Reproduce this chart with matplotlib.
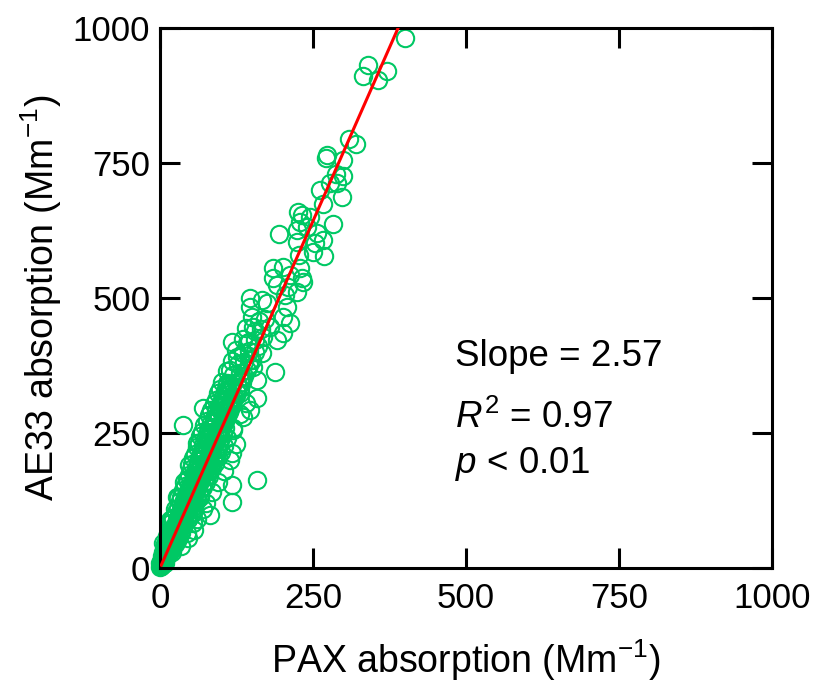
import matplotlib
matplotlib.use("Agg")
import matplotlib.pyplot as plt

plt.rcParams['font.family'] = ['Liberation Sans', 'DejaVu Sans']
plt.rcParams['mathtext.fontset'] = 'custom'
plt.rcParams['mathtext.rm'] = 'Liberation Sans'
plt.rcParams['mathtext.it'] = 'Liberation Sans:italic'

# PAX vs AE33 absorption (Mm-1)
# dense core near the origin
core_pax = [0, 1, 2, 3, 4, 4, 6, 8, 10, 8, 12, 15, 18, 14, 18, 22, 26, 30,
            18, 24, 28, 32, 36, 26, 32, 38, 44, 52, 32, 38, 44, 50, 58,
            38, 44, 50, 56, 64, 44, 52, 58, 64, 72, 50, 58, 64, 72, 80,
            54, 62, 70, 78, 88, 60, 68, 76, 84, 94, 66, 74, 82, 90, 100,
            72, 80, 88, 96, 106, 80, 88, 96, 104, 88, 96, 104, 112,
            95, 103, 112, 120, 102, 110, 120, 128, 110, 120, 130, 118, 128, 138,
            125, 135, 145, 135, 145, 155, 140, 155, 165, 150, 162, 172]
core_ae33 = [2, 8, 4, 10, 6, 22, 18, 24, 20, 42, 38, 44, 36, 62, 58, 64, 56, 60,
             84, 78, 82, 76, 80, 104, 98, 102, 96, 100, 124, 118, 122, 116, 120,
             144, 138, 142, 136, 140, 164, 158, 162, 156, 160, 184, 178, 182, 176, 180,
             204, 198, 202, 196, 200, 224, 218, 222, 216, 220, 244, 238, 242, 236, 240,
             264, 258, 262, 256, 260, 284, 278, 282, 276, 304, 298, 302, 296,
             324, 318, 322, 316, 344, 338, 342, 336, 364, 358, 362, 384, 378, 382,
             404, 398, 402, 424, 418, 422, 444, 438, 442, 464, 458, 462]

# more of the core, between the rows above
core2_pax = [2, 4, 6, 8, 6, 9, 12, 15, 20, 11, 15, 19, 23, 27, 16, 21, 25, 29, 34,
             22, 28, 34, 40, 46, 29, 35, 41, 47, 55, 35, 41, 47, 53, 61,
             41, 47, 53, 60, 68, 47, 55, 61, 68, 76, 52, 60, 67, 75, 84,
             57, 65, 73, 81, 91, 63, 71, 79, 87, 97, 69, 77, 85, 93, 103,
             76, 84, 92, 100, 84, 92, 100, 108, 91, 99, 108, 116, 98, 106, 116, 124]
core2_ae33 = [12, 9, 13, 10, 31, 28, 32, 29, 30, 52, 48, 51, 49, 50, 71, 69, 72, 68, 70,
              92, 88, 91, 89, 90, 112, 108, 111, 109, 110, 132, 128, 131, 129, 130,
              152, 148, 151, 149, 150, 172, 168, 171, 169, 170, 192, 188, 191, 189, 190,
              212, 208, 211, 209, 210, 232, 228, 231, 229, 230, 252, 248, 251, 249, 250,
              272, 268, 271, 269, 292, 288, 291, 289, 312, 308, 311, 309, 332, 328, 331, 329]

# edges of the core (wide spread at low values)
edge_pax = [35, 45, 55, 60, 70, 75, 85, 95, 105, 115, 125,
            5, 8, 12, 20, 25, 30, 40, 48]
edge_ae33 = [40, 55, 70, 90, 110, 120, 140, 160, 180, 200, 230,
             30, 45, 60, 90, 110, 130, 160, 190]

# points along the fitted line and the spread around it
band_pax = [1, 2, 3, 4, 5, 6, 7, 8, 9, 10, 3, 5, 7, 9, 11, 12, 13, 14, 15, 16,
            17, 18, 19, 20, 21, 22, 23, 24, 25, 26, 27, 28, 29, 30, 31, 32, 33, 34, 35, 36,
            37, 38, 39, 40, 41, 42, 43, 44, 45, 46, 47, 48, 49, 50, 52, 54, 56, 58, 60, 62,
            64, 66, 68, 70, 72, 74, 76, 78, 80, 82, 84, 86, 88, 90, 92, 94, 96, 98, 100, 102,
            104, 106, 108, 110, 112, 115, 118, 120, 123, 126, 130, 134, 138, 142, 146, 150, 155, 160,
            10, 15, 20, 25, 30, 35, 40, 45, 50, 55, 60, 65, 70, 75, 80, 85, 90, 95, 100, 105, 110, 115,
            15, 20, 25, 30, 35, 40, 45, 50, 55, 60, 65, 70, 75, 80, 85, 90, 95, 100, 105, 110, 120, 130, 140]
band_ae33 = [3, 5, 6, 10, 12, 15, 17, 20, 22, 26, 9, 8, 12, 18, 30, 28, 35, 33, 40, 38,
             45, 42, 50, 48, 55, 52, 60, 58, 66, 62, 72, 68, 78, 74, 82, 79, 88, 84, 92, 90,
             98, 94, 104, 100, 108, 104, 114, 110, 118, 115, 124, 120, 130, 126, 135, 140, 146, 150, 158, 162,
             168, 172, 178, 182, 188, 192, 198, 202, 208, 212, 218, 222, 228, 232, 238, 242, 248, 252, 258, 262,
             268, 272, 278, 282, 288, 295, 302, 310, 316, 324, 334, 345, 356, 366, 376, 386, 400, 412,
             40, 55, 70, 80, 95, 110, 125, 140, 155, 170, 185, 200, 215, 230, 245, 260, 275, 285, 300, 310, 325, 340,
             25, 35, 45, 55, 65, 80, 90, 100, 115, 125, 135, 150, 160, 170, 185, 195, 205, 215, 225, 240, 260, 285, 305]

# individual circles that can be read one by one
single_pax = [0, 5, 16, 16, 28, 44, 54, 65, 44, 65, 82, 118, 118, 158, 82, 93, 118, 60, 82, 119, 103, 38,
              136, 98, 70, 114, 147, 158, 131, 109, 158, 134, 114, 152, 188, 147, 167, 126, 201, 191, 168,
              142, 118, 212, 152, 180, 201, 207, 175, 147, 234, 209,
              167, 147, 204, 224, 191, 232, 185, 212, 229, 201, 185, 227, 268, 250, 253, 224, 266, 256, 194,
              224, 283, 240, 229, 245, 232, 226, 266, 297, 261, 289, 278, 299, 288, 299, 271, 273, 320, 309,
              356, 371, 332, 340, 400]
single_ae33 = [9, 46, 39, 89, 131, 65, 83, 131, 163, 187, 98, 122, 154, 163, 207, 224, 213, 231, 250, 255, 274, 265,
               280, 296, 296, 306, 293, 315, 324, 343, 348, 354, 367, 372, 363, 385, 398, 391, 435, 422, 428,
               417, 419, 453, 446, 446, 465, 483, 490, 483, 530, 520,
               496, 500, 506, 511, 524, 537, 537, 543, 556, 557, 556, 580, 578, 585, 602, 604, 607, 620, 618,
               626, 637, 632, 641, 650, 653, 659, 674, 687, 700, 713, 713, 726, 730, 755, 759, 765, 785, 794,
               904, 920, 911, 931, 981]

slope = 2.57
fit_x = [2, 389]

pax = core_pax + core2_pax + edge_pax + band_pax + single_pax
ae33 = core_ae33 + core2_ae33 + edge_ae33 + band_ae33 + single_ae33

fig = plt.figure(figsize=(8.23, 6.93), dpi=100)
ax = fig.add_axes([0.1944, 0.1804, 0.7436, 0.7792])

ax.plot(pax, ae33, 'o', mfc='none', mec='#00C864', ms=12.5, mew=1.5, clip_on=False, zorder=2)
ax.plot(fit_x, [slope * v for v in fit_x], color='#FF0000', lw=2.2, zorder=3)

ax.set_xlim(0, 1000)
ax.set_ylim(0, 1000)
ticks = [0, 250, 500, 750, 1000]
ax.set_xticks(ticks)
ax.set_yticks(ticks)
ax.tick_params(direction='in', length=14.5, width=2.2, labelsize=25, top=True, right=True)
ax.tick_params(axis='x', pad=10)
ax.tick_params(axis='y', pad=7)
for s in ax.spines.values():
    s.set_linewidth(2.2)

ax.set_xlabel('PAX absorption (Mm$^{-1}$)', fontsize=27, labelpad=16)
ax.set_ylabel('AE33 absorption (Mm$^{-1}$)', fontsize=27, labelpad=6)

ax.text(482, 391, 'Slope = 2.57', fontsize=26.5, va='center')
ax.text(482, 278, '$R^2$ = 0.97', fontsize=26.5, va='center')
ax.text(482, 193, '$p$ < 0.01', fontsize=26.5, va='center')

plt.savefig('out.png', dpi=100)
